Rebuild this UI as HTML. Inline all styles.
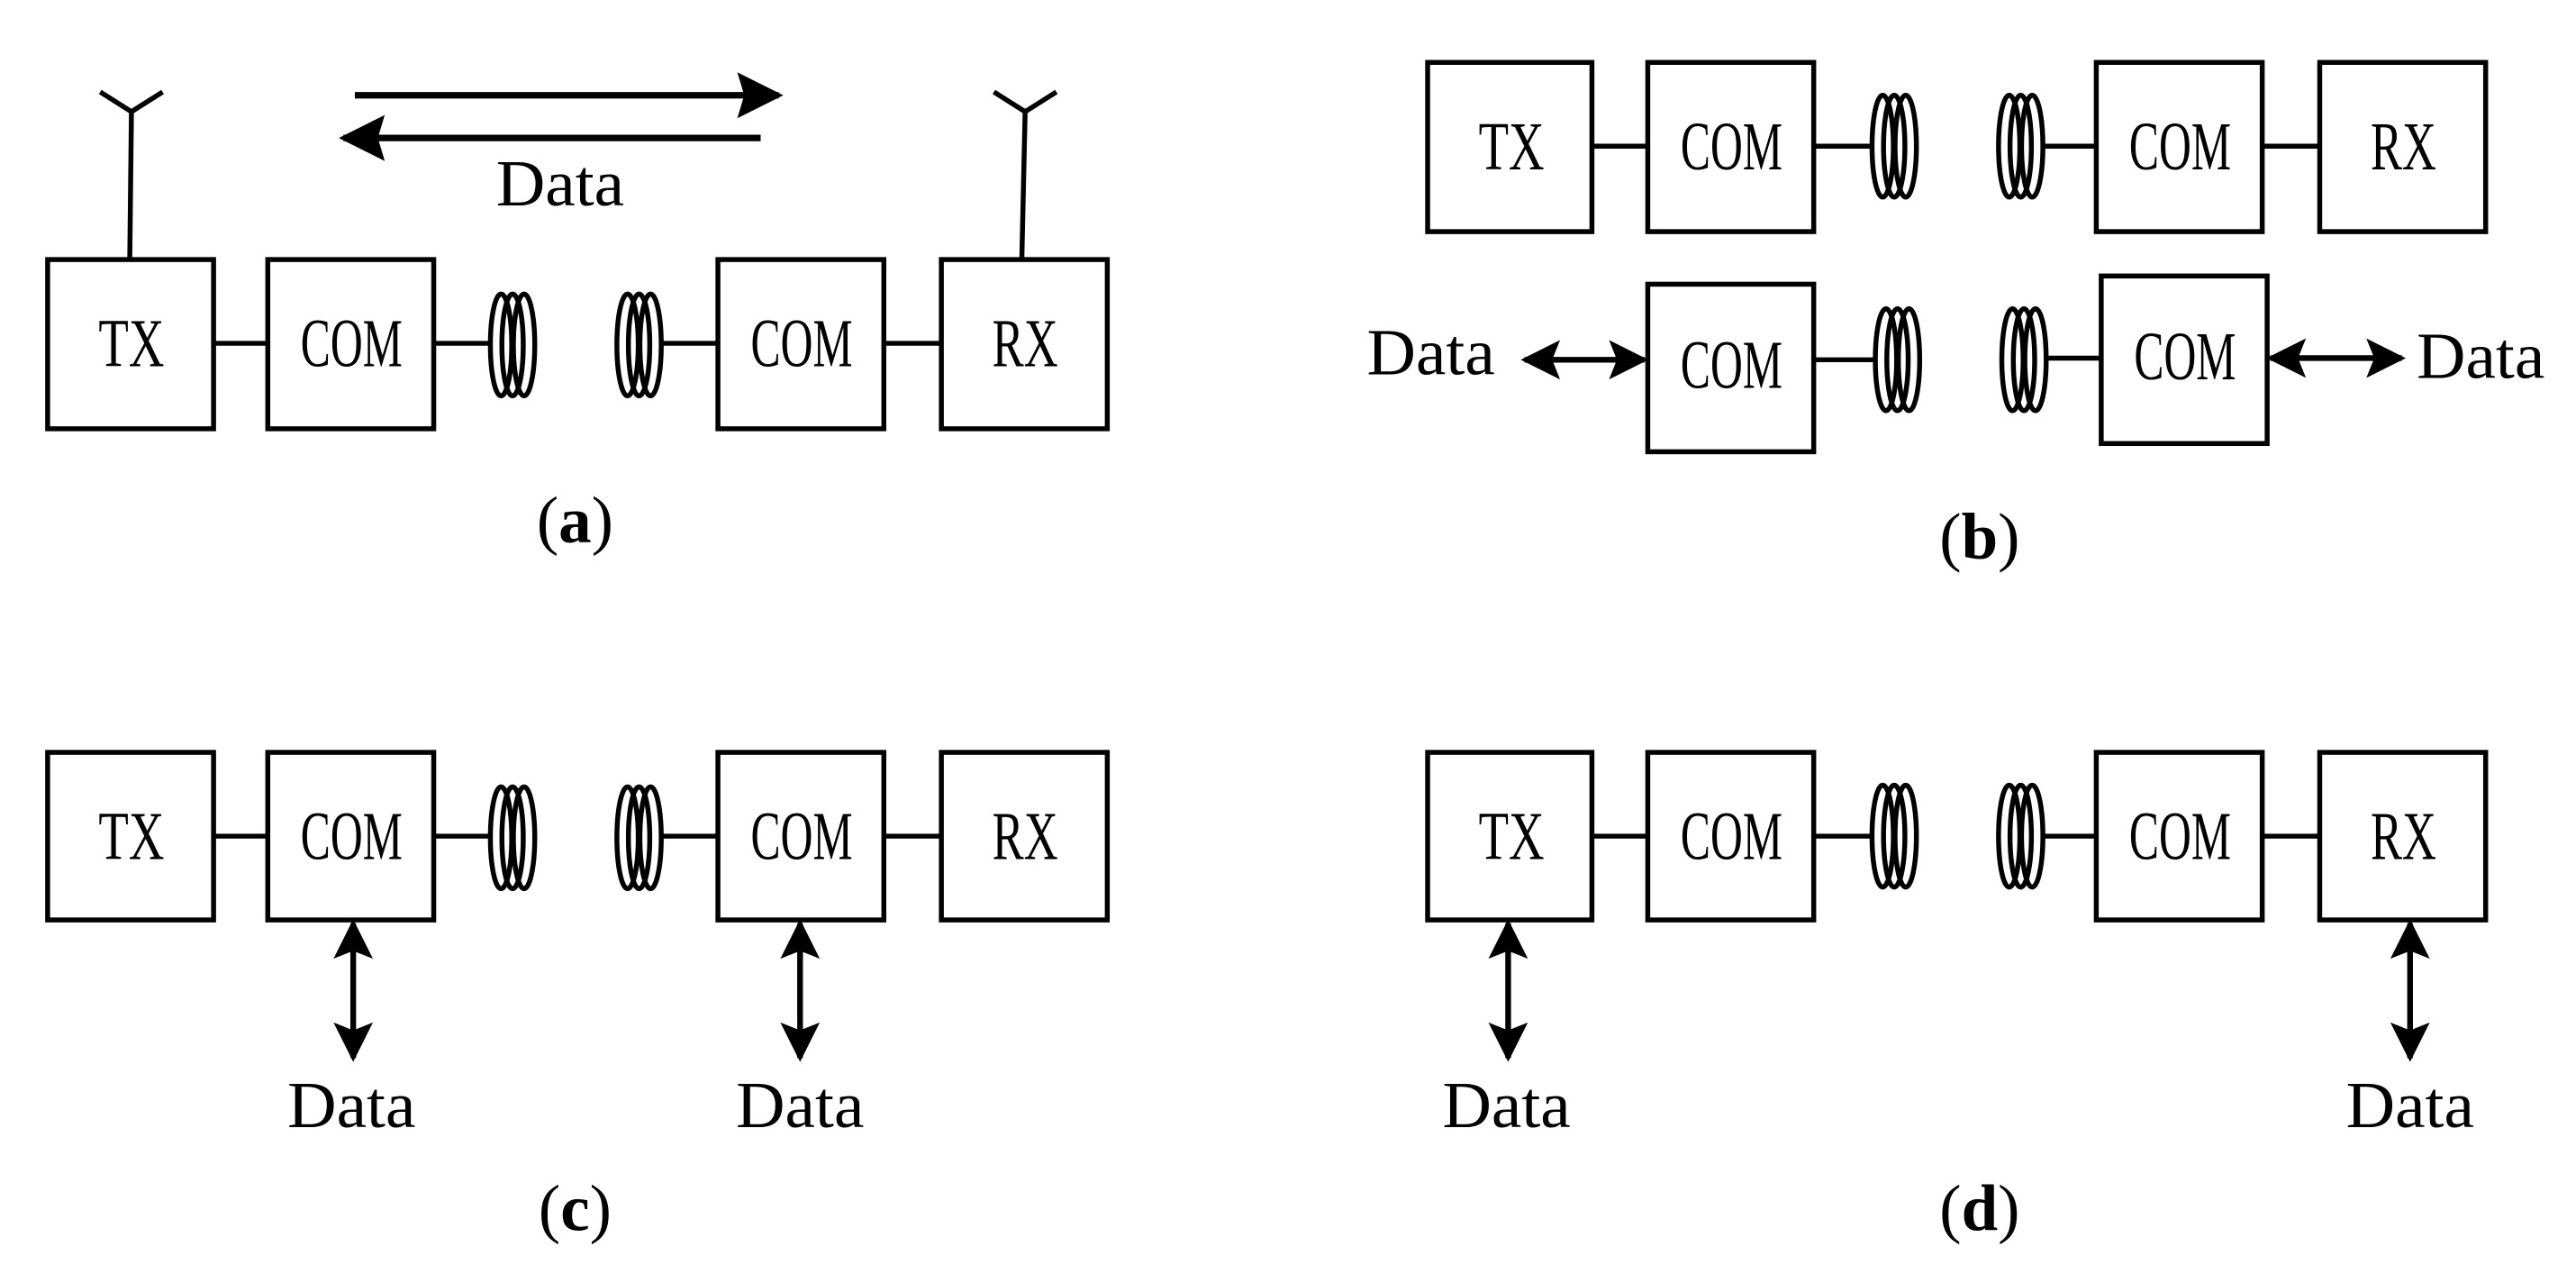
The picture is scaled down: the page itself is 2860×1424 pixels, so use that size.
<!DOCTYPE html>
<html><head><meta charset="utf-8"><style>html,body{margin:0;padding:0;background:#fff}svg{display:block}</style></head>
<body>
<svg width="2860" height="1424" viewBox="0 0 1568 781" preserveAspectRatio="none" xmlns="http://www.w3.org/2000/svg">
<defs>
<g id="coil" fill="none" stroke="#000" stroke-width="3"><ellipse cx="-7" cy="0" rx="6.5" ry="31"/><ellipse cx="0" cy="0" rx="6.5" ry="31"/><ellipse cx="7" cy="0" rx="6.5" ry="31"/></g>
<marker id="ah" viewBox="0 0 10 10" refX="9" refY="5" markerUnits="userSpaceOnUse" markerWidth="30" markerHeight="28" orient="auto-start-reverse"><path d="M0,0 L10,5 L0,10 L1.5,5 z" fill="#000"/></marker>
<marker id="as" viewBox="0 0 10 10" refX="9" refY="5" markerUnits="userSpaceOnUse" markerWidth="24" markerHeight="26" orient="auto-start-reverse"><path d="M0,0 L10,5 L0,10 L2,5 z" fill="#000"/></marker>
</defs>
<g fill="none" stroke="#000" stroke-width="3">
<!-- (a) -->
<rect x="29" y="158" width="101" height="103"/><rect x="163" y="158" width="101" height="103"/>
<rect x="437" y="158" width="101" height="103"/><rect x="573" y="158" width="101" height="103"/>
<path d="M130 209H163M264 209H298M403 209H437M538 209H573"/>
<path d="M79 157L80 68M61 56L80 68L99 56M622 157L624 68M605 56L624 68L643 56"/>
<path d="M216 58H474" stroke-width="4" marker-end="url(#ah)"/><path d="M463 84H209" stroke-width="4" marker-end="url(#ah)"/>
<!-- (b) -->
<rect x="869" y="38" width="100" height="103"/><rect x="1003" y="38" width="101" height="103"/>
<rect x="1276" y="38" width="101" height="103"/><rect x="1412" y="38" width="101" height="103"/>
<path d="M969 89H1003M1104 89H1140M1244 89H1276M1377 89H1412"/>
<rect x="1003" y="173" width="101" height="102"/><rect x="1279" y="168" width="101" height="102"/>
<path d="M1104 219H1141M1246 218H1279"/>
<path d="M928 219H1001" stroke-width="3.5" marker-start="url(#as)" marker-end="url(#as)"/>
<path d="M1382 218H1462" stroke-width="3.5" marker-start="url(#as)" marker-end="url(#as)"/>
<!-- (c) -->
<rect x="29" y="458" width="101" height="102"/><rect x="163" y="458" width="101" height="102"/>
<rect x="437" y="458" width="101" height="102"/><rect x="573" y="458" width="101" height="102"/>
<path d="M130 509H163M264 509H298M403 509H437M538 509H573"/>
<path d="M215 562V644" stroke-width="3.5" marker-start="url(#as)" marker-end="url(#as)"/>
<path d="M487 562V644" stroke-width="3.5" marker-start="url(#as)" marker-end="url(#as)"/>
<!-- (d) -->
<rect x="869" y="458" width="100" height="102"/><rect x="1003" y="458" width="101" height="102"/>
<rect x="1276" y="458" width="101" height="102"/><rect x="1412" y="458" width="101" height="102"/>
<path d="M969 509H1003M1104 509H1140M1244 509H1276M1377 509H1412"/>
<path d="M918 562V644" stroke-width="3.5" marker-start="url(#as)" marker-end="url(#as)"/>
<path d="M1467 562V644" stroke-width="3.5" marker-start="url(#as)" marker-end="url(#as)"/>
</g>
<use href="#coil" x="312" y="210"/><use href="#coil" x="389" y="210"/>
<use href="#coil" x="1153" y="89"/><use href="#coil" x="1230" y="89"/>
<use href="#coil" x="1155" y="219"/><use href="#coil" x="1232" y="219"/>
<use href="#coil" x="312" y="510"/><use href="#coil" x="389" y="510"/>
<use href="#coil" x="1153" y="509"/><use href="#coil" x="1230" y="509"/>
<g font-family="Liberation Serif, serif" font-size="42" text-anchor="middle" fill="#000">
<text x="80" y="223" textLength="40" lengthAdjust="spacingAndGlyphs">TX</text>
<text x="214" y="223" textLength="62" lengthAdjust="spacingAndGlyphs">COM</text>
<text x="488" y="223" textLength="62" lengthAdjust="spacingAndGlyphs">COM</text>
<text x="624" y="223" textLength="40" lengthAdjust="spacingAndGlyphs">RX</text>
<text x="920" y="103" textLength="40" lengthAdjust="spacingAndGlyphs">TX</text>
<text x="1054" y="103" textLength="62" lengthAdjust="spacingAndGlyphs">COM</text>
<text x="1327" y="103" textLength="62" lengthAdjust="spacingAndGlyphs">COM</text>
<text x="1463" y="103" textLength="40" lengthAdjust="spacingAndGlyphs">RX</text>
<text x="1054" y="236" textLength="62" lengthAdjust="spacingAndGlyphs">COM</text>
<text x="1330" y="231" textLength="62" lengthAdjust="spacingAndGlyphs">COM</text>
<text x="80" y="523" textLength="40" lengthAdjust="spacingAndGlyphs">TX</text>
<text x="214" y="523" textLength="62" lengthAdjust="spacingAndGlyphs">COM</text>
<text x="488" y="523" textLength="62" lengthAdjust="spacingAndGlyphs">COM</text>
<text x="624" y="523" textLength="40" lengthAdjust="spacingAndGlyphs">RX</text>
<text x="920" y="523" textLength="40" lengthAdjust="spacingAndGlyphs">TX</text>
<text x="1054" y="523" textLength="62" lengthAdjust="spacingAndGlyphs">COM</text>
<text x="1327" y="523" textLength="62" lengthAdjust="spacingAndGlyphs">COM</text>
<text x="1463" y="523" textLength="40" lengthAdjust="spacingAndGlyphs">RX</text>
</g>
<g font-family="Liberation Serif, serif" font-size="40" text-anchor="middle" fill="#000">
<text x="341" y="125" textLength="78" lengthAdjust="spacingAndGlyphs">Data</text>
<text x="871" y="228" textLength="78" lengthAdjust="spacingAndGlyphs">Data</text>
<text x="1510" y="230" textLength="78" lengthAdjust="spacingAndGlyphs">Data</text>
<text x="214" y="686" textLength="78" lengthAdjust="spacingAndGlyphs">Data</text>
<text x="487" y="686" textLength="78" lengthAdjust="spacingAndGlyphs">Data</text>
<text x="917" y="686" textLength="78" lengthAdjust="spacingAndGlyphs">Data</text>
<text x="1467" y="686" textLength="78" lengthAdjust="spacingAndGlyphs">Data</text>
<text x="350" y="330">(<tspan font-weight="bold">a</tspan>)</text>
<text x="1205" y="340">(<tspan font-weight="bold">b</tspan>)</text>
<text x="350" y="749">(<tspan font-weight="bold">c</tspan>)</text>
<text x="1205" y="749">(<tspan font-weight="bold">d</tspan>)</text>
</g>
</svg>
</body></html>
